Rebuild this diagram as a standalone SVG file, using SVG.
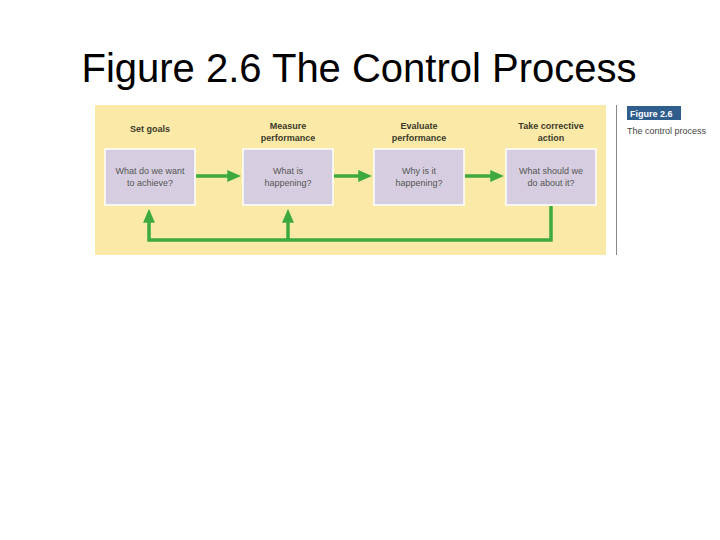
<svg xmlns="http://www.w3.org/2000/svg" width="720" height="540" viewBox="0 0 720 540">
<style>
.title{font-family:"Liberation Sans",Arial,sans-serif;font-size:40px;fill:#000}
.head{font-family:"Liberation Sans",Arial,sans-serif;font-size:9px;font-weight:bold;fill:#3a3a2a;text-anchor:middle}
.box{fill:#d6cee0;stroke:#ffffff;stroke-width:1.5}
.btxt{font-family:"Liberation Sans",Arial,sans-serif;font-size:9px;fill:#555;text-anchor:middle}
.conn{fill:none;stroke:#3daa3f;stroke-width:3.5}
</style>
<defs>
<marker id="ah" markerWidth="4" markerHeight="4" refX="2.5" refY="2" orient="auto" markerUnits="strokeWidth">
<path d="M0,0.3 L4,2 L0,3.7 Z" fill="#3daa3f"/>
</marker>
</defs>
<rect width="720" height="540" fill="#ffffff"/>
<text class="title" x="359" y="82" text-anchor="middle">Figure 2.6 The Control Process</text>
<rect x="95" y="105" width="511" height="150" fill="#fbe9a8"/>
<line x1="616.5" y1="105" x2="616.5" y2="255" stroke="#888" stroke-width="1"/>
<rect x="627" y="106" width="54" height="14" fill="#2f5d8c"/>
<text x="630" y="117" font-family="'Liberation Sans',Arial,sans-serif" font-size="9" font-weight="bold" fill="#ffffff">Figure 2.6</text>
<text x="627" y="134" font-family="'Liberation Sans',Arial,sans-serif" font-size="9" fill="#444">The control process</text>
<g id="connectors">
<line class="conn" x1="196" y1="176" x2="236" y2="176" marker-end="url(#ah)"/>
<line class="conn" x1="334" y1="176" x2="367" y2="176" marker-end="url(#ah)"/>
<line class="conn" x1="465" y1="176" x2="499" y2="176" marker-end="url(#ah)"/>
<polyline class="conn" points="551,206 551,240 149,240 149,214" marker-end="url(#ah)"/>
<line class="conn" x1="288" y1="240" x2="288" y2="214" marker-end="url(#ah)"/>
</g>
<g id="n1">
<text class="head" x="150" y="132">Set goals</text>
<rect class="box" x="105" y="149" width="90" height="56"/>
<text class="btxt" x="150" y="174">What do we want</text>
<text class="btxt" x="150" y="186">to achieve?</text>
</g>
<g id="n2">
<text class="head" x="288" y="129">Measure</text>
<text class="head" x="288" y="141">performance</text>
<rect class="box" x="243" y="149" width="90" height="56"/>
<text class="btxt" x="288" y="174">What is</text>
<text class="btxt" x="288" y="186">happening?</text>
</g>
<g id="n3">
<text class="head" x="419" y="129">Evaluate</text>
<text class="head" x="419" y="141">performance</text>
<rect class="box" x="374" y="149" width="90" height="56"/>
<text class="btxt" x="419" y="174">Why is it</text>
<text class="btxt" x="419" y="186">happening?</text>
</g>
<g id="n4">
<text class="head" x="551" y="129">Take corrective</text>
<text class="head" x="551" y="141">action</text>
<rect class="box" x="506" y="149" width="90" height="56"/>
<text class="btxt" x="551" y="174">What should we</text>
<text class="btxt" x="551" y="186">do about it?</text>
</g>
</svg>
